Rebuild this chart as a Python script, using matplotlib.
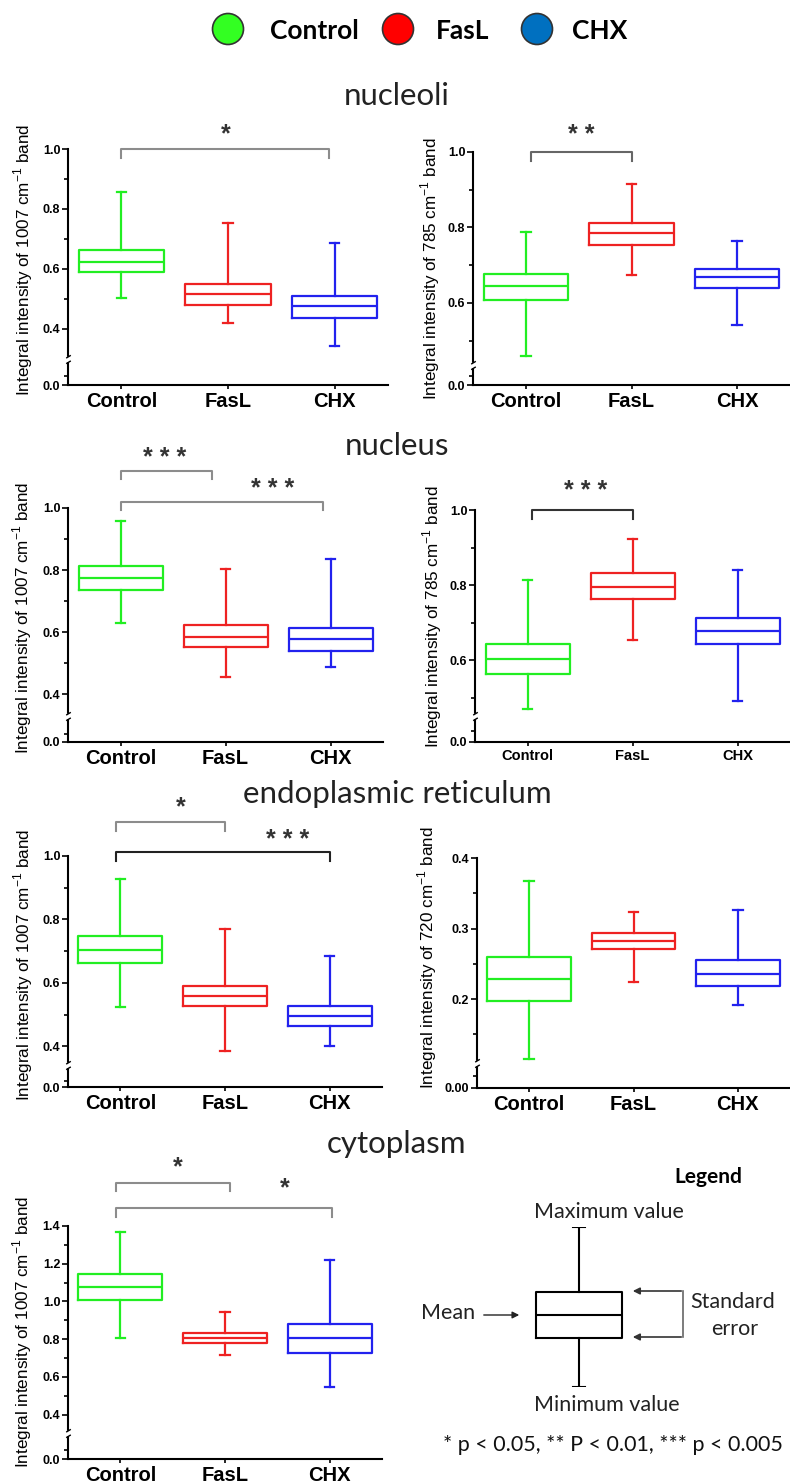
import numpy as np
import matplotlib.pyplot as plt
from matplotlib.path import Path
from matplotlib.patches import Circle

plt.rcParams['font.family'] = ['Liberation Sans', 'DejaVu Sans']
plt.rcParams['mathtext.fontset'] = 'custom'
plt.rcParams['mathtext.rm'] = 'Liberation Sans'

groups = ['Control', 'FasL', 'CHX']
colors = ['#22ee22', '#ee2222', '#2222ee']
legend_colors = ['#33ff22', '#ff0000', '#0070c0']

# each row: min, mean - SE, mean, mean + SE, max  (Control, FasL, CHX)
nucleoli_1007 = [[0.503, 0.590, 0.624, 0.663, 0.856],
                 [0.419, 0.481, 0.517, 0.550, 0.753],
                 [0.344, 0.436, 0.476, 0.509, 0.688]]
nucleoli_785 = [[0.458, 0.608, 0.644, 0.677, 0.788],
                [0.673, 0.754, 0.785, 0.811, 0.916],
                [0.540, 0.640, 0.668, 0.690, 0.764]]
nucleus_1007 = [[0.629, 0.737, 0.774, 0.812, 0.959],
                [0.457, 0.552, 0.585, 0.623, 0.803],
                [0.489, 0.541, 0.578, 0.615, 0.837]]
nucleus_785 = [[0.469, 0.564, 0.604, 0.642, 0.813],
               [0.655, 0.763, 0.795, 0.831, 0.924],
               [0.492, 0.643, 0.678, 0.711, 0.841]]
er_1007 = [[0.523, 0.662, 0.705, 0.748, 0.927],
           [0.384, 0.528, 0.558, 0.589, 0.769],
           [0.400, 0.464, 0.497, 0.527, 0.684]]
er_720 = [[0.115, 0.198, 0.228, 0.260, 0.368],
          [0.224, 0.271, 0.283, 0.294, 0.324],
          [0.191, 0.219, 0.236, 0.255, 0.326]]
cyto_1007 = [[0.807, 1.007, 1.077, 1.143, 1.366],
             [0.714, 0.779, 0.806, 0.834, 0.943],
             [0.548, 0.726, 0.807, 0.880, 1.217]]

label_1007 = r'Integral intensity of 1007 cm$^{\mathregular{-1}}$ band'
label_785 = r'Integral intensity of 785 cm$^{\mathregular{-1}}$ band'
label_720 = r'Integral intensity of 720 cm$^{\mathregular{-1}}$ band'

ticks_1007 = [0.0, 0.4, 0.6, 0.8, 1.0]
ticks_785 = [0.0, 0.6, 0.8, 1.0]
ticks_720 = [0.0, 0.2, 0.3, 0.4]
ticks_cyto = [0.0, 0.4, 0.6, 0.8, 1.0, 1.2, 1.4]
ticklabels_720 = ['0.00', '0.2', '0.3', '0.4']

# significance brackets: x1, x2, y, drop, text, text x, text y, colour
sig_nucleoli_1007 = [(1.0, 2.95, 1.0, 0.03, '*', 1.98, 1.05, '#8c8c8c')]
sig_nucleoli_785 = [(1.05, 2.0, 1.0, 0.025, '* *', 1.52, 1.045, '#666666')]
sig_nucleus_1007 = [(1.0, 1.87, 1.118, 0.025, '* * *', 1.42, 1.16, '#8c8c8c'),
                    (1.0, 2.93, 1.02, 0.025, '* * *', 2.45, 1.06, '#8c8c8c')]
sig_nucleus_785 = [(1.04, 2.0, 1.0, 0.025, '* * *', 1.55, 1.05, '#333333')]
sig_er_1007 = [(0.96, 2.0, 1.108, 0.028, '*', 1.58, 1.155, '#8c8c8c'),
               (0.96, 3.0, 1.014, 0.03, '* * *', 2.6, 1.05, '#222222')]
sig_cyto_1007 = [(0.96, 2.05, 1.629, 0.045, '*', 1.55, 1.71, '#8c8c8c'),
                 (0.96, 3.02, 1.497, 0.05, '*', 2.57, 1.6, '#8c8c8c')]

W, H = 790, 1483
fig = plt.figure(figsize=(W / 100, H / 100), dpi=100)

canvas = fig.add_axes([0, 0, 1, 1])
canvas.set_xlim(0, W)
canvas.set_ylim(H, 0)
canvas.axis('off')


def break_scale(b, g):
    def fwd(v):
        v = np.asarray(v, float)
        return np.where(v >= b, v, b - (b - v) * g / b)

    def inv(u):
        u = np.asarray(u, float)
        return np.where(u >= b, u, b - (b - u) * b / g)
    return fwd, inv


brk_mark = Path([(-1, -1.8), (1, -0.6), (-1, 0.6), (1, 1.8)],
                [Path.MOVETO, Path.LINETO, Path.MOVETO, Path.LINETO])


def panel(box_px, rows, top, b, g, ticks, minor, ylabel, sig,
          ticklabels=None, xfs=14.5, lab_x=-0.14, lab_y=0.53):
    l, t, r, bt = box_px
    ax = fig.add_axes([l / W, 1 - bt / H, (r - l) / W, (bt - t) / H])
    ax.set_yscale('function', functions=break_scale(b, g))
    stats = [dict(whislo=s[0], q1=s[1], med=s[2], q3=s[3], whishi=s[4]) for s in rows]
    res = ax.bxp(stats, positions=[1, 2, 3], widths=0.8, capwidths=0.09,
                 showfliers=False)
    for i, c in enumerate(colors):
        res['boxes'][i].set(color=c, lw=1.6)
        res['medians'][i].set(color=c, lw=1.6)
        for k in (2 * i, 2 * i + 1):
            res['whiskers'][k].set(color=c, lw=1.6)
            res['caps'][k].set(color=c, lw=1.6)
    ax.set_xlim(0.5, 3.5)
    ax.set_ylim(0, top)
    ax.set_yticks(ticks)
    ax.set_yticklabels(ticklabels or ['%.1f' % v for v in ticks],
                       fontweight='bold', fontsize=9)
    ax.set_yticks(minor, minor=True)
    ax.set_xticks([1, 2, 3])
    ax.set_xticklabels(groups, fontweight='bold', fontsize=xfs)
    ax.tick_params(axis='y', which='major', length=4, width=1.2, pad=1.5)
    ax.tick_params(axis='y', which='minor', length=3, width=1.2)
    ax.tick_params(axis='x', length=3, width=1.2, pad=2)
    for s in ('top', 'right'):
        ax.spines[s].set_visible(False)
    for s in ('left', 'bottom'):
        ax.spines[s].set_linewidth(1.5)
    ax.set_ylabel(ylabel, fontsize=12.3, va='center')
    ax.yaxis.set_label_coords(lab_x, lab_y)
    # axis break
    ax.plot([0], [b], marker='s', ms=2.5, mfc='white', mec='white',
            transform=ax.get_yaxis_transform(), clip_on=False, zorder=5)
    ax.plot([0], [b], marker=brk_mark, ms=6, mec='black', mew=1, ls='none',
            transform=ax.get_yaxis_transform(), clip_on=False, zorder=6)
    for x1, x2, y, d, txt, tx, ty, c in sig:
        ax.plot([x1, x1, x2, x2], [y - d, y, y, y - d], color=c, lw=1.5,
                clip_on=False)
        ax.text(tx, ty, txt, ha='center', va='center', fontsize=18,
                fontweight='bold', color='#333333', clip_on=False)
    return ax


panel((68, 149, 388, 385), nucleoli_1007, 1.0, 0.30, 0.087, ticks_1007,
      [0.1, 0.5, 0.7, 0.9], label_1007, sig_nucleoli_1007, lab_x=-0.141)
panel((473, 152, 790, 385), nucleoli_785, 1.0, 0.435, 0.053, ticks_785,
      [0.2, 0.5, 0.7, 0.9], label_785, sig_nucleoli_785, lab_x=-0.136, lab_y=0.5)
panel((68, 508, 383, 742), nucleus_1007, 1.0, 0.33, 0.083, ticks_1007,
      [0.1, 0.5, 0.7, 0.9], label_1007, sig_nucleus_1007, lab_x=-0.146)
panel((475, 510, 790, 742), nucleus_785, 1.0, 0.45, 0.068, ticks_785,
      [0.2, 0.5, 0.7, 0.9], label_785, sig_nucleus_785, xfs=10.5, lab_x=-0.135,
      lab_y=0.54)
panel((68, 856, 382, 1087), er_1007, 1.0, 0.34, 0.068, ticks_1007,
      [0.1, 0.5, 0.7, 0.9], label_1007, sig_er_1007, lab_x=-0.143)
panel((477, 858, 790, 1088), er_720, 0.4, 0.11, 0.036, ticks_720,
      [0.05, 0.15, 0.25, 0.35], label_720, [], ticklabels=ticklabels_720,
      lab_x=-0.16, lab_y=0.565)
panel((68, 1226, 382, 1459), cyto_1007, 1.4, 0.30, 0.136, ticks_cyto,
      [0.1, 0.5, 0.7, 0.9, 1.1, 1.3], label_1007, sig_cyto_1007, lab_x=-0.145,
      lab_y=0.547)

# colour legend on top
for x, c, lx, name in zip([228, 398, 537], legend_colors, [270, 436, 572], groups):
    canvas.add_patch(Circle((x, 29), 15.5, fc=c, ec='#333333', lw=1.2))
    canvas.text(lx, 31, name, family='Lato', fontweight='bold', fontsize=19,
                ha='left', va='center')

# section titles
for y, name in zip([105, 455, 803, 1153],
                   ['nucleoli', 'nucleus', 'endoplasmic reticulum', 'cytoplasm']):
    canvas.text(397, y, name, family='Lato', fontsize=22.5, ha='center',
                va='baseline', color='#222222')

# schematic legend box
sk = fig.add_axes([395 / W, 1 - 1387 / H, 395 / W, 160 / H])
sk.set_xlim(0, 1)
sk.set_ylim(0, 1)
sk.axis('off')
sk.bxp([dict(whislo=0.0, q1=0.306, med=0.45, q3=0.594, whishi=1.0)],
       positions=[0.466], widths=0.218, capwidths=0.03, showfliers=False,
       boxprops=dict(color='black', lw=1.5), medianprops=dict(color='black', lw=1.5),
       whiskerprops=dict(color='black', lw=1.5), capprops=dict(color='black', lw=1.5))

fs = 15.5
canvas.text(708, 1177, 'Legend', family='Lato', fontweight='bold', fontsize=15,
            ha='center', va='center')
canvas.text(609, 1212, 'Maximum value', family='Lato', fontsize=fs, ha='center',
            va='center', color='#222222')
canvas.text(607, 1405, 'Minimum value', family='Lato', fontsize=fs, ha='center',
            va='center', color='#222222')
canvas.text(475, 1313, 'Mean', family='Lato', fontsize=fs, ha='right', va='center',
            color='#222222')
canvas.annotate('', xy=(522, 1315), xytext=(481, 1315),
                arrowprops=dict(arrowstyle='-|>', color='#222222', lw=1))
canvas.text(733, 1302, 'Standard', family='Lato', fontsize=fs, ha='center',
            va='center', color='#222222')
canvas.text(735, 1329, 'error', family='Lato', fontsize=fs, ha='center',
            va='center', color='#222222')
canvas.plot([683, 683], [1291, 1337], color='#666666', lw=1.2)
for y in (1291, 1337):
    canvas.annotate('', xy=(630, y), xytext=(684, y),
                    arrowprops=dict(arrowstyle='-|>', color='#333333', lw=1.2))
canvas.text(613, 1445, '* p < 0.05, ** P < 0.01, *** p < 0.005', family='Lato',
            fontsize=15.5, ha='center', va='center', color='#111111')

fig.savefig('out.png', dpi=100)
